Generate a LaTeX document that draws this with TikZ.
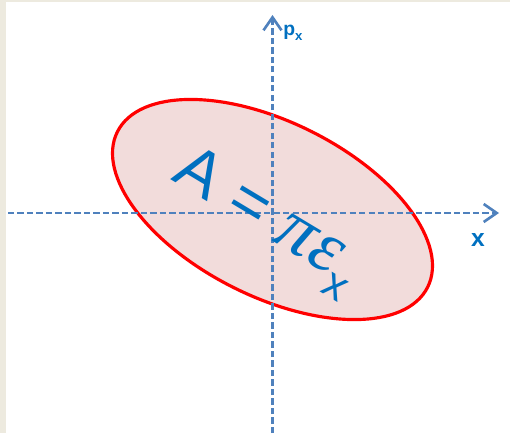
\documentclass[tikz,border=0pt]{standalone}
\usepackage{fontspec}
\setmainfont{Liberation Sans}
\newfontfamily\grkfont{Liberation Serif}
\usepackage{tikz}
\usetikzlibrary{arrows.meta,positioning}
\definecolor{phAxis}{HTML}{4F81BD}
\definecolor{phText}{HTML}{0070C0}
\definecolor{phRim}{HTML}{FF0000}
\definecolor{phFill}{HTML}{F2DCDB}
\definecolor{phEdge}{HTML}{EDEADF}
\tikzset{
  % Dashed phase-space axis
  axis/.style={-{Straight Barb[length=2.6mm,width=3.6mm,line width=1.5pt]},
    line width=1.3pt,color=phAxis,dash pattern=on 3.6pt off 1.8pt},
  % Axis label
  albl/.style={font=\bfseries,text=phText,inner sep=0pt},
  % Emittance ellipse
  ebox/.style={draw=phRim,fill=phFill,line width=1.8pt},
}
\begin{document}
\begin{tikzpicture}[x=0.02cm,y=-0.02cm]
  \useasboundingbox (0,0) rectangle (510,433);
  \fill[white] (0,0) rectangle (510,433);
  \fill[phEdge] (0,0) rectangle (6,433);
  \fill[phEdge] (0,0) rectangle (510,1.5);

  %% --- ELLIPSE ---
  \draw[ebox] (272.5,209.5) ellipse [x radius=173.5,y radius=87.2,rotate=-26.6];

  %% --- AXES ---
  \coordinate (xl) at (8,213);
  \coordinate (xr) at (499,213);
  \coordinate (pb) at (272.5,433);
  \coordinate (pt) at (272.5,15);
  \draw[axis] (xl) -- (xr);
  \draw[axis] (pb) -- (pt);

  \node[albl,font=\fontsize{11}{12}\selectfont\bfseries,anchor=west] (plbl) at (283,33)
    {p\raisebox{-0.45ex}{\fontsize{7.5}{8}\selectfont x}};
  \node[albl,font=\fontsize{14}{15}\selectfont\bfseries] (xlbl) at (478,240) {x};

  %% --- AREA LABEL ---
  \node[text=phText,rotate=-31,inner sep=0pt,font=\fontsize{37}{40}\selectfont] (area) at (266,222)
    {A = {\grkfont\itshape\fontsize{42}{44}\selectfont π\kern1pt ε}\raisebox{-0.55ex}{\fontsize{25}{27}\selectfont x}};
\end{tikzpicture}
\end{document}
